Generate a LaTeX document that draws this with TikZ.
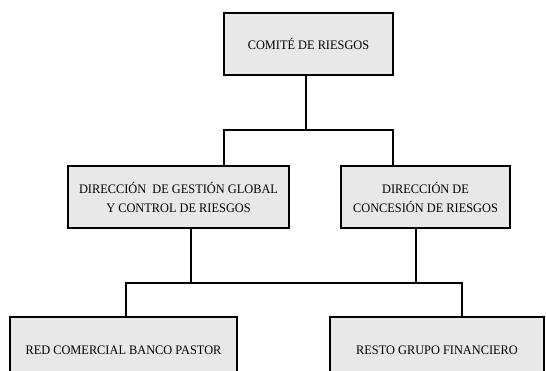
\documentclass[tikz,border=0pt]{standalone}
\usepackage{fontspec}
\setmainfont[FakeStretch=0.95]{Liberation Serif}
\usepackage{tikz}
\usetikzlibrary{positioning,calc}
\definecolor{boxgray}{RGB}{232,232,232}

\begin{document}
\begin{tikzpicture}[x=1pt, y=-1pt, line width=1.6pt,
    orgbox/.style={draw, fill=boxgray, rectangle, inner sep=0pt, align=center, font=\fontsize{13}{19}\selectfont},
    link/.style={draw, line width=1.6pt}]
    \useasboundingbox (0,0) rectangle (546,371);
    \clip (0,0) rectangle (546,371);
    % Nodes
    \node[orgbox, minimum width=169pt, minimum height=62pt] (comite) at (308.5, 44) {COMITÉ DE RIESGOS};
    \node[orgbox, minimum width=221pt, minimum height=62pt] (gestion) at (178.5, 197) {DIRECCIÓN \ DE GESTIÓN GLOBAL\\Y CONTROL DE RIESGOS};
    \node[orgbox, minimum width=169pt, minimum height=62pt] (concesion) at (425.5, 197) {DIRECCIÓN DE\\CONCESIÓN DE RIESGOS};
    \node[orgbox, minimum width=227pt, minimum height=66pt] (red) at (123.5, 350) {RED COMERCIAL BANCO PASTOR};
    \node[orgbox, minimum width=214pt, minimum height=66pt] (resto) at (437, 350) {RESTO GRUPO FINANCIERO};
    % Bends
    \coordinate (up) at (306, 130);
    \coordinate (upL) at (224, 130);
    \coordinate (upR) at (393, 130);
    \coordinate (downL) at (191, 283);
    \coordinate (downR) at (416, 283);
    \coordinate (botL) at (126, 283);
    \coordinate (botR) at (462, 283);
    % Connectors
    \draw[link] (comite.south -| up) -- (up);
    \draw[link] (gestion.north -| upL) -- (upL) -- (upR) -- (concesion.north -| upR);
    \draw[link] (gestion.south -| downL) -- (downL);
    \draw[link] (concesion.south -| downR) -- (downR);
    \draw[link] (red.north -| botL) -- (botL) -- (botR) -- (resto.north -| botR);
\end{tikzpicture}
\end{document}
